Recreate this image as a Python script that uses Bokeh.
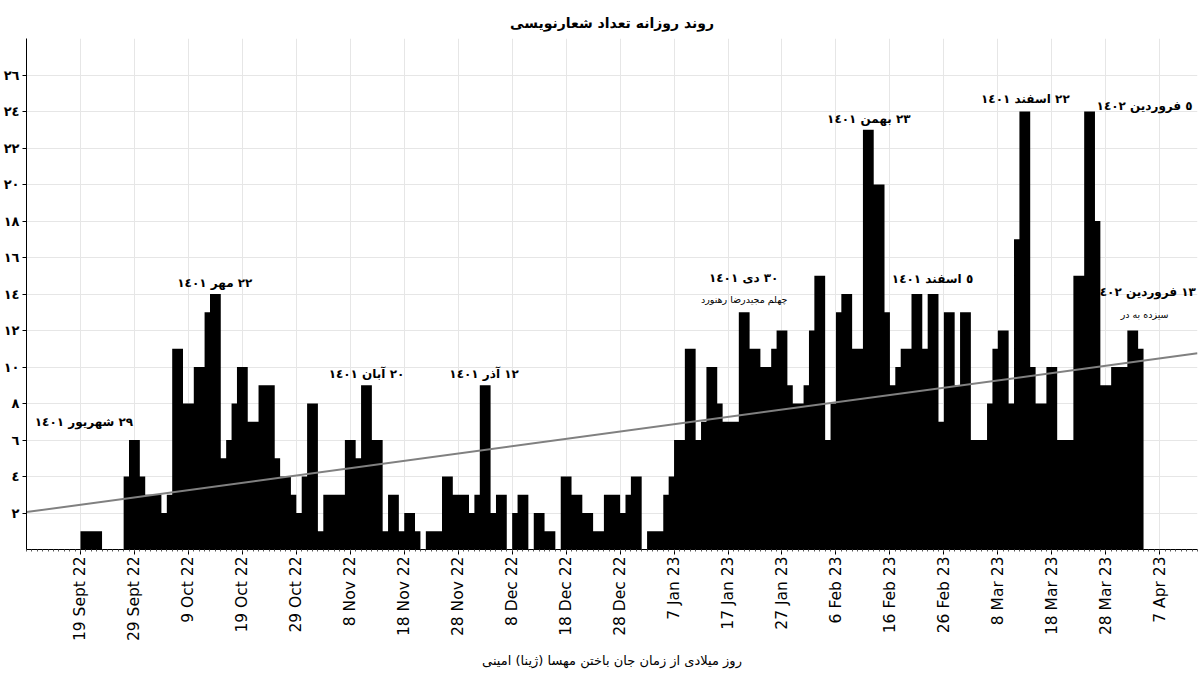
import pandas as pd
from bokeh.plotting import figure
from bokeh.models import ColumnDataSource, Range1d, FixedTicker
from bokeh.core.properties import value
from bokeh.embed import file_html
from bokeh.resources import INLINE

# ---------------- data ----------------
start_date = "2022-09-19"
sep_vals = [1, 1, 1, 1, 0, 0, 0, 0, 4, 6, 6, 4]
oct_vals = [3, 3, 3, 2, 3, 11, 11, 8, 8, 10, 10, 13, 14, 14, 5, 6, 8, 10, 10, 7,
            7, 9, 9, 9, 5, 4, 4, 3, 2, 4, 8]
nov_vals = [8, 1, 3, 3, 3, 3, 6, 6, 5, 9, 9, 6, 6, 1, 3, 3, 1, 2, 2, 1,
            0, 1, 1, 1, 4, 4, 3, 3, 3, 2]
dec_vals = [3, 9, 9, 2, 3, 3, 0, 2, 3, 3, 0, 2, 2, 1, 1, 0, 4, 4, 3, 3,
            2, 2, 1, 1, 3, 3, 3, 2, 3, 4, 4]
jan_vals = [0, 1, 1, 1, 3, 4, 6, 6, 11, 11, 6, 7, 10, 10, 8, 7, 7, 7, 13, 13,
            11, 11, 10, 10, 11, 12, 12, 9, 8, 8, 9]
feb_vals = [12, 15, 15, 6, 8, 13, 14, 14, 11, 11, 23, 23, 20, 20, 13, 9, 10, 11, 11, 14,
            14, 11, 14, 14, 7, 13, 13, 9]
mar_vals = [13, 13, 6, 6, 6, 8, 11, 12, 12, 8, 17, 24, 24, 10, 8, 8, 10, 10, 6, 6,
            6, 15, 15, 24, 24, 18, 9, 9, 10, 10, 10]
apr_vals = [12, 12, 11]

x_start = "2022-09-09"
x_end = "2023-04-14"

tick_dates = ["2022-09-19", "2022-09-29", "2022-10-09", "2022-10-19", "2022-10-29",
              "2022-11-08", "2022-11-18", "2022-11-28", "2022-12-08", "2022-12-18",
              "2022-12-28", "2023-01-07", "2023-01-17", "2023-01-27", "2023-02-06",
              "2023-02-16", "2023-02-26", "2023-03-08", "2023-03-18", "2023-03-28",
              "2023-04-07"]
tick_labels = ["19 Sept 22", "29 Sept 22", "9 Oct 22", "19 Oct 22", "29 Oct 22",
               "8 Nov 22", "18 Nov 22", "28 Nov 22", "8 Dec 22", "18 Dec 22",
               "28 Dec 22", "7 Jan 23", "17 Jan 23", "27 Jan 23", "6 Feb 23",
               "16 Feb 23", "26 Feb 23", "8 Mar 23", "18 Mar 23", "28 Mar 23",
               "7 Apr 23"]

y_ticks = [2, 4, 6, 8, 10, 12, 14, 16, 18, 20, 22, 24, 26]
y_labels = ["٢", "٤", "٦", "٨", "١٠", "١٢", "١٤", "١٦", "١٨", "٢٠", "٢٢", "٢٤", "٢٦"]

trend_dates = ["2022-09-09", "2023-04-14"]
trend_vals = [2.05, 10.75]

title_text = "روند روزانه تعداد شعارنویسی"
xlabel_text = "روز میلادی از زمان جان باختن مهسا (ژینا) امینی"

ann_texts = ["٢٩ شهریور ١٤٠١", "٢٢ مهر ١٤٠١", "٢٠ آبان ١٤٠١", "١٢ آذر ١٤٠١",
             "٣٠ دی ١٤٠١", "٢٣ بهمن ١٤٠١", "٥ اسفند ١٤٠١", "٢٢ اسفند ١٤٠١",
             "٥ فروردین ١٤٠٢", "١٣ فروردین ٤٠٢"]
ann_day = [0.65, 24.9, 53.0, 74.8, 122.9, 146.1, 157.9, 175.1, 197.2, 197.8]
ann_y = [7.0, 14.6, 9.6, 9.6, 14.85, 23.6, 14.8, 24.7, 24.3, 14.1]

sub_texts = ["چهلم مجیدرضا رهنورد", "سیزده به در"]
sub_day = [123.0, 197.2]
sub_y = [13.7, 12.9]

# ---------------- build ----------------
counts = sep_vals + oct_vals + nov_vals + dec_vals + jan_vals + feb_vals + mar_vals + apr_vals
days = pd.date_range(start_date, periods=len(counts), freq="D")
# step area: each day's value holds from that day until the next one
step_x = list(days) + [days[-1] + pd.Timedelta(days=1)]
step_y = counts + [counts[-1]]
src = ColumnDataSource(dict(x=step_x, y=step_y))

def ms(d):
    return pd.Timestamp(d).value // 10**6

base = pd.Timestamp(start_date)

p = figure(width=1200, height=680, x_axis_type="datetime",
           x_range=Range1d(pd.Timestamp(x_start), pd.Timestamp(x_end)),
           y_range=Range1d(0, 28),
           output_backend="svg", toolbar_location=None,
           min_border_left=25, min_border_right=3, min_border_top=38, min_border_bottom=131)
p.outline_line_color = None
p.background_fill_color = "white"

p.title.text = title_text
p.title.align = "center"
p.title.text_font = "DejaVu Sans"
p.title.text_font_size = "14px"
p.title.text_font_style = "bold"
p.title.text_color = "black"
p.title.standoff = 16

p.varea_step(x="x", y1=0, y2="y", step_mode="after", source=src, fill_color="black")

p.line(x=[pd.Timestamp(d) for d in trend_dates], y=trend_vals,
       line_color="#808080", line_width=2)

p.text(x=[base + pd.Timedelta(days=d) for d in ann_day], y=ann_y, text=ann_texts,
       text_align="center", text_baseline="middle", text_font=value("DejaVu Sans"),
       text_font_size="12px", text_font_style="bold", text_color="black")
p.text(x=[base + pd.Timedelta(days=d) for d in sub_day], y=sub_y, text=sub_texts,
       text_align="center", text_baseline="middle", text_font=value("DejaVu Sans"),
       text_font_size="9.5px", text_color="black")

major_ms = [ms(d) for d in tick_dates]
minor_ms = [ms(d) for d in pd.date_range(x_start, x_end, freq="D")]

xa = p.xaxis[0]
xa.ticker = FixedTicker(ticks=major_ms, minor_ticks=minor_ms)
xa.major_label_overrides = {m: l for m, l in zip(major_ms, tick_labels)}
xa.major_label_orientation = 1.5707963
xa.major_label_text_font = "DejaVu Sans"
xa.major_label_text_font_size = "15.5px"
xa.major_label_text_color = "black"
xa.major_label_standoff = 2
xa.axis_line_color = "black"
xa.major_tick_line_color = "black"
xa.minor_tick_line_color = "#555555"
xa.major_tick_out = 5
xa.major_tick_in = 0
xa.minor_tick_out = 2
xa.minor_tick_in = 0
xa.axis_label = xlabel_text
xa.axis_label_text_font = "DejaVu Sans"
xa.axis_label_text_font_size = "13px"
xa.axis_label_text_font_style = "normal"
xa.axis_label_text_color = "black"
xa.axis_label_standoff = 9

ya = p.yaxis[0]
ya.ticker = FixedTicker(ticks=y_ticks)
ya.major_label_overrides = {t: l for t, l in zip(y_ticks, y_labels)}
ya.major_label_text_font = "DejaVu Sans"
ya.major_label_text_font_size = "13px"
ya.major_label_text_font_style = "bold"
ya.major_label_text_color = "black"
ya.axis_line_color = "black"
ya.major_tick_line_color = "black"
ya.major_tick_out = 4
ya.major_tick_in = 0
ya.minor_tick_line_color = None
ya.major_label_standoff = 3

p.xgrid.ticker = FixedTicker(ticks=major_ms)
p.ygrid.ticker = FixedTicker(ticks=y_ticks + [28])
p.xgrid.grid_line_color = "#e6e6e6"
p.ygrid.grid_line_color = "#e6e6e6"

open("out.html", "w").write(file_html(p, INLINE))
